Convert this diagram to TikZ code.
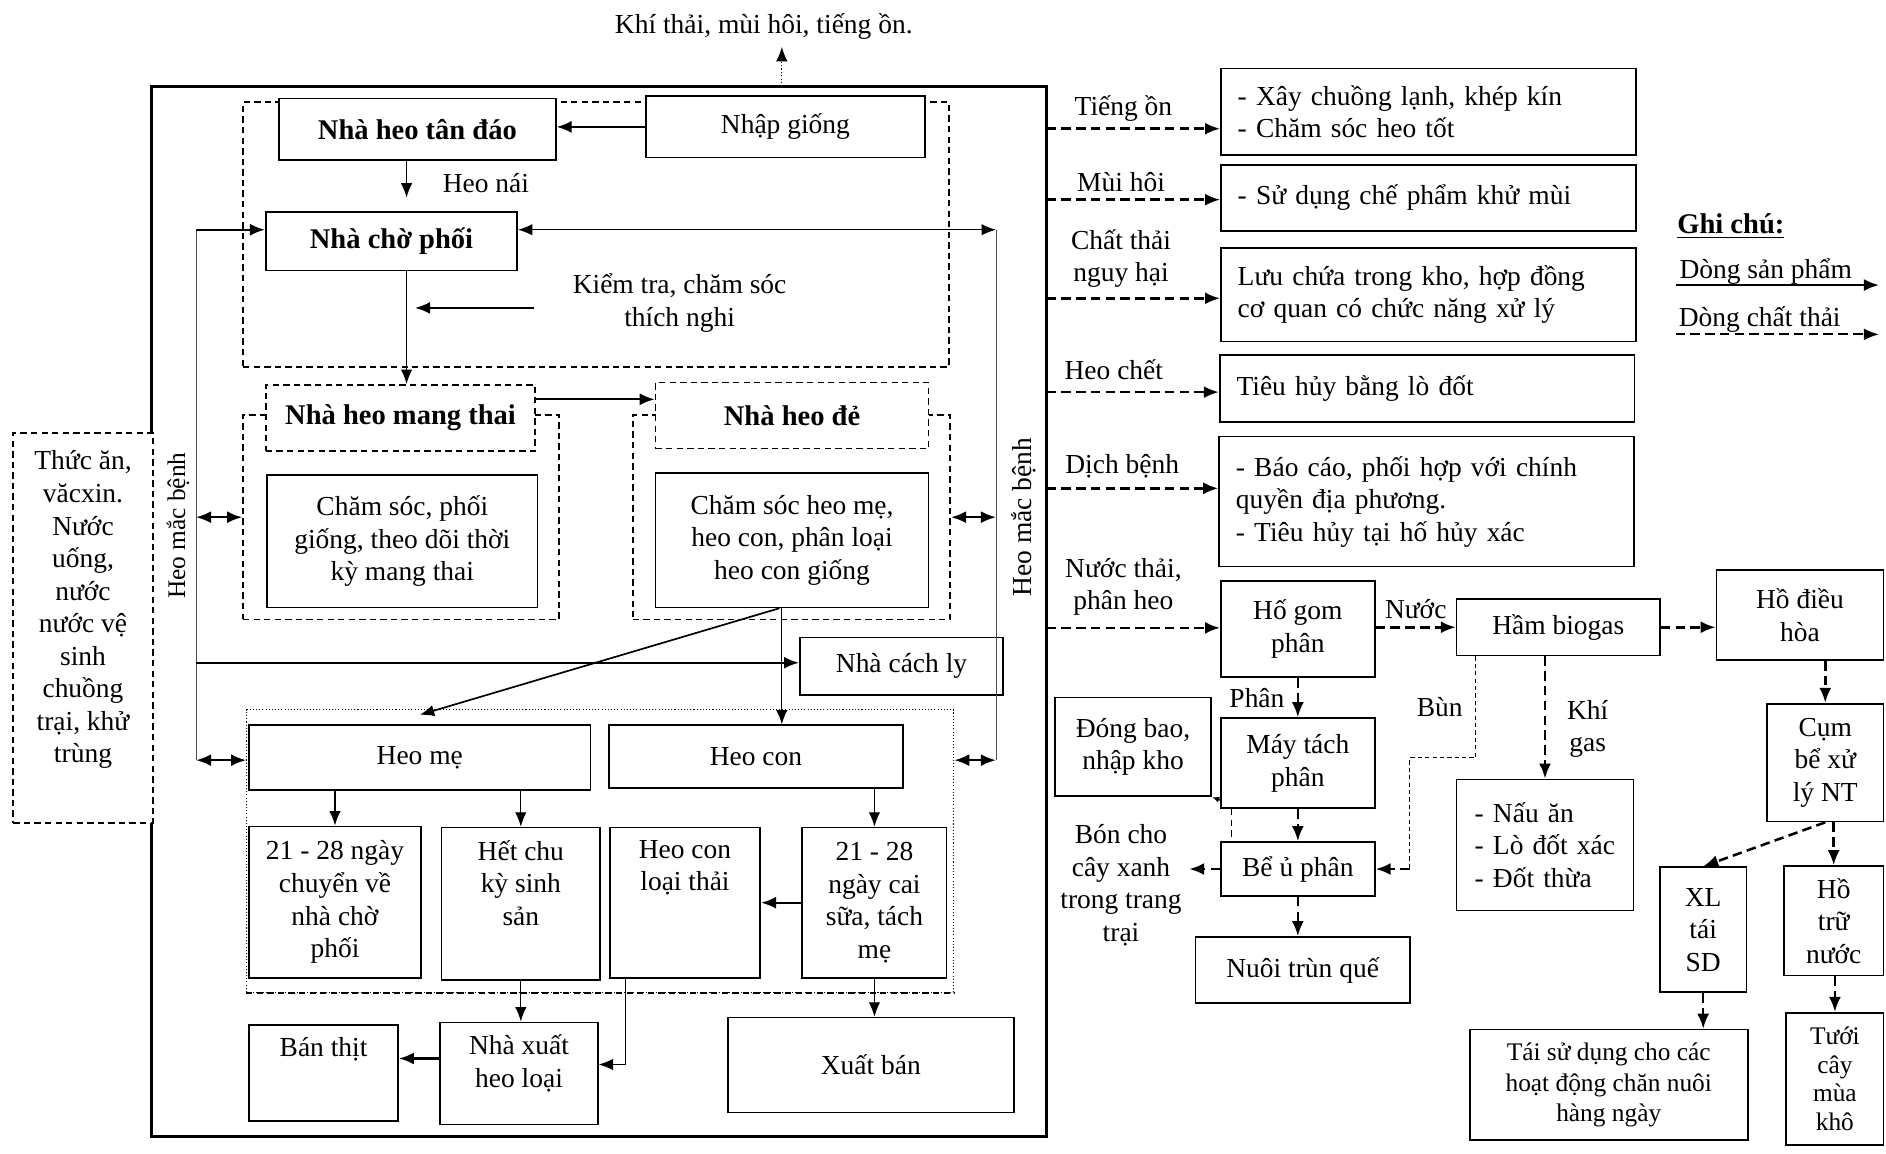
\documentclass[tikz,border=0pt]{standalone}
\usepackage{fontspec}
\setmainfont{Liberation Serif}
\usetikzlibrary{arrows.meta}

\begin{document}
\begin{tikzpicture}[x=0.02cm,y=-0.02cm,font=\fontsize{13}{15.4}\selectfont,
  box/.style={draw,line width=0.8pt,align=center,inner sep=1pt,fill=white},
  dbox/.style={box,dash pattern=on 3pt off 2pt},
  grp/.style={draw,line width=0.8pt,dash pattern=on 3pt off 2pt},
  txt/.style={align=left,text width=6.34cm,inner xsep=0.28cm},
  bf/.style={font=\fontsize{13.5}{15.4}\selectfont\bfseries},
  flow/.style={-{Latex[length=2.5mm,width=2mm]},line width=1.1pt},
  tflow/.style={-{Latex[length=2.4mm,width=1.9mm]},line width=0.6pt},
  waste/.style={flow,line width=1.2pt,dash pattern=on 4.5pt off 2.5pt},
  both/.style={{Latex[length=2.5mm,width=2mm]}-{Latex[length=2.5mm,width=2mm]},line width=1.1pt},
  tboth/.style={{Latex[length=2.4mm,width=1.9mm]}-{Latex[length=2.4mm,width=1.9mm]},line width=0.5pt},
  hair/.style={line width=0.4pt,black!70}]
  \useasboundingbox (0,0) rectangle (1568,959);

  \node[draw,line width=1.7pt,minimum width=14.88cm,minimum height=17.46cm] (frame) at (498,508.5) {};
  \node[grp,minimum width=11.74cm,minimum height=4.4cm] (gtop) at (495.5,195) {};
  \node[grp,minimum width=5.26cm,minimum height=3.4cm] (gmang) at (333.5,430) {};
  \node[grp,minimum width=5.28cm,minimum height=3.4cm] (gde) at (658,430) {};
  \node[draw,line width=0.5pt,densely dotted,minimum width=11.76cm,minimum height=4.7cm] (gbot) at (499,707.5) {};
  \draw[line width=0.8pt,dash pattern=on 3pt off 2pt] (gbot.south west) -- (gbot.south east);

  \node (khithai) at (635,22) {Khí thải, mùi hôi, tiếng ồn.};
  \coordinate (top) at (650,72);
  \draw[tflow,densely dotted] (top) -- (top |- khithai.south);

  \node[box,bf,minimum width=4.6cm,minimum height=1.02cm] (tandao) at (347,107.5) {Nhà heo tân đáo};
  \node[box,minimum width=4.64cm,minimum height=1.02cm] (nhapgiong) at (653,105.5) {Nhập giống};
  \node[box,bf,minimum width=4.18cm,minimum height=0.98cm] (chophoi) at (325.5,200.5) {Nhà chờ phối};
  \node (heonai) at (404,152) {Heo nái};
  \node[align=center] (kiemtra) at (565,252) {Kiểm tra, chăm sóc\\thích nghi};
  \node[dbox,bf,minimum width=4.48cm,minimum height=1.1cm] (mangthai) at (333,347.5) {Nhà heo mang thai};
  \node[box,minimum width=4.5cm,minimum height=2.2cm] (chamsoc1) at (334.5,450) {Chăm sóc, phối\\giống, theo dõi thời\\kỳ mang thai};
  \node[dbox,bf,minimum width=4.54cm,minimum height=1.1cm] (heode) at (658.5,345.5) {Nhà heo đẻ};
  \node[box,minimum width=4.54cm,minimum height=2.24cm] (chamsoc2) at (658.5,449) {Chăm sóc heo mẹ,\\heo con, phân loại\\heo con giống};
  \node[box,minimum width=3.38cm,minimum height=0.96cm] (cachly) at (749.5,554) {Nhà cách ly};
  \node[box,minimum width=5.68cm,minimum height=1.08cm] (heome) at (349,630) {Heo mẹ};
  \node[box,minimum width=4.9cm,minimum height=1.04cm] (heocon) at (628.5,629) {Heo con};
  \node[box,minimum width=2.86cm,minimum height=2.52cm] (chuyenve) at (278.5,750) {21 - 28 ngày\\chuyển về\\nhà chờ\\phối};
  \node[box,minimum width=2.64cm,minimum height=2.54cm] (hetchu) at (433,751.5) {};
  \node[anchor=north,align=center] at ([yshift=-0.1cm]hetchu.north) {Hết chu\\kỳ sinh\\sản};
  \node[box,minimum width=2.5cm,minimum height=2.5cm] (loaithai) at (569.5,750.5) {};
  \node[anchor=north,align=center] at ([yshift=-0.1cm]loaithai.north) {Heo con\\loại thải};
  \node[box,minimum width=2.4cm,minimum height=2.5cm] (caisua) at (727,750.5) {21 - 28\\ngày cai\\sữa, tách\\mẹ};
  \node[box,minimum width=2.48cm,minimum height=1.6cm] (banthit) at (269,892) {};
  \node[anchor=north] at ([yshift=-0.1cm]banthit.north) {Bán thịt};
  \node[box,minimum width=2.62cm,minimum height=1.7cm] (nhaxuat) at (431.5,892.5) {};
  \node[anchor=north,align=center] at ([yshift=-0.1cm]nhaxuat.north) {Nhà xuất\\heo loại};
  \node[box,minimum width=4.76cm,minimum height=1.58cm] (xuatban) at (724,885.5) {Xuất bán};

  \node[box,dash pattern=on 3pt off 2pt,minimum width=2.32cm,minimum height=6.48cm] (thucan) at (69,522) {};
  \node[align=center] at (69,507) {Thức ăn,\\văcxin.\\Nước\\uống,\\nước\\nước vệ\\sinh\\chuồng\\trại, khử\\trùng};
  \node[rotate=90,font=\fontsize{12}{14}\selectfont] at (148,437) {Heo mắc bệnh};
  \node[rotate=90] at (851,430) {Heo mắc bệnh};

  \coordinate (hl1) at (163,191);
  \coordinate (hl2) at (163,632);
  \coordinate (hl3) at (163,551);
  \coordinate (hr1) at (828,191);
  \coordinate (hr2) at (828,632);
  \draw[hair] (hl1) -- (hl2);
  \draw[hair] (hr1) -- (hr2);
  \draw[flow] (hl1) -- (hl1 -| chophoi.west);
  \draw[tboth] (hr1 -| chophoi.east) -- (hr1);
  \draw[both] (hl1 |- gmang.west) -- (gmang.west);
  \draw[both] (gde.east) -- (hr1 |- gde.east);
  \draw[both] (hl2) -- (hl2 -| gbot.west);
  \draw[both] (hr2 -| gbot.east) -- (hr2);
  \draw[flow] (hl3) -- (hl3 -| cachly.west);

  \draw[flow] (nhapgiong.west) -- (nhapgiong.west -| tandao.east);
  \draw[tflow,shorten >=0.22cm] ([xshift=-0.18cm]tandao.south) coordinate (t1) -- (t1 |- chophoi.north);
  \draw[tflow] ([xshift=0.25cm]chophoi.south) coordinate (c1) -- (c1 |- mangthai.north);
  \coordinate (kt1) at (444,256);
  \coordinate (kt2) at (345,256);
  \draw[flow] (kt1) -- (kt2);
  \draw[flow] ([yshift=0.31cm]mangthai.east) coordinate (mh) -- (mh -| heode.west);
  \draw[tflow] ([xshift=-0.17cm]chamsoc2.south) coordinate (d1) -- (d1 |- heocon.north);
  \draw[tflow,line width=0.8pt] ([xshift=-0.21cm]chamsoc2.south) -- ([yshift=0.16cm]heome.north);
  \draw[tflow] (chuyenve.north |- heome.south) -- (chuyenve.north);
  \draw[tflow] (hetchu.north |- heome.south) -- (hetchu.north);
  \draw[tflow] (caisua.north |- heocon.south) -- (caisua.north);
  \draw[flow] (caisua.west) -- (loaithai.east);
  \draw[tflow] (hetchu.south) -- (hetchu.south |- nhaxuat.north);
  \draw[tflow] ([xshift=-0.99cm]loaithai.south) |- ([yshift=0.15cm]nhaxuat.east);
  \draw[flow] ([yshift=0.25cm]nhaxuat.west) coordinate (nx) -- (nx -| banthit.east);
  \draw[tflow] (caisua.south) -- (caisua.south |- xuatban.north);

  \node (tiengon) at (934,90) {Tiếng ồn};
  \node (muihoi) at (932,151) {Mùi hôi};
  \node[align=center] (chatthai) at (932,215) {Chất thải\\nguy hại};
  \node (heochet) at (926,307) {Heo chết};
  \node (dichbenh) at (933,388) {Dịch bệnh};
  \node[align=center] (nuocthai) at (934,488) {Nước thải,\\phân heo};

  \node[box,txt,minimum height=1.44cm] (r1) at (1187.5,93) {- Xây chuồng lạnh, khép kín\\- Chăm sóc heo tốt};
  \node[box,txt,minimum height=1.1cm] (r2) at (1187.5,164.5) {- Sử dụng chế phẩm khử mùi};
  \node[box,txt,minimum height=1.56cm] (r3) at (1187.5,245) {\makebox[6.34cm][s]{Lưu chứa trong kho, hợp đồng}\\cơ quan có chức năng xử lý};
  \node[box,txt,minimum height=1.12cm] (r4) at (1186.5,323) {Tiêu hủy bằng lò đốt};
  \node[box,txt,minimum height=2.16cm] (r5) at (1186,417) {- Báo cáo, phối hợp với chính\\quyền địa phương.\\- Tiêu hủy tại hố hủy xác};

  \coordinate (o1) at (870,107);
  \coordinate (o2) at (870,166);
  \coordinate (o3) at (870,248);
  \coordinate (o4) at (870,326);
  \coordinate (o5) at (870,406);
  \coordinate (o6) at (870,522);
  \draw[waste] (o1) -- (o1 -| r1.west);
  \draw[waste] (o2) -- (o2 -| r2.west);
  \draw[waste] (o3) -- (o3 -| r3.west);
  \draw[waste] (o4) -- (o4 -| r4.west);
  \draw[waste] (o5) -- (o5 -| r5.west);

  \node[box,minimum width=2.56cm,minimum height=1.6cm] (hogom) at (1079,523) {Hố gom\\phân};
  \node[box,minimum width=3.38cm,minimum height=0.94cm] (biogas) at (1295.5,521.5) {Hầm biogas};
  \node[box,minimum width=2.78cm,minimum height=1.5cm] (dieuhoa) at (1496.5,511.5) {Hồ điều\\hòa};
  \node[box,minimum width=1.94cm,minimum height=1.96cm] (cumbe) at (1517.5,634) {Cụm\\bể xử\\lý NT};
  \node[box,minimum width=1.44cm,minimum height=2.08cm] (xltaisd) at (1416,773) {XL\\tái\\SD};
  \node[box,minimum width=1.66cm,minimum height=1.82cm] (hotru) at (1524.5,765.5) {Hồ\\trữ\\nước};
  \node[box,minimum width=4.62cm,minimum height=1.84cm,font=\fontsize{12}{14.5}\selectfont] (taisudung) at (1337.5,902) {Tái sử dụng cho các\\hoạt động chăn nuôi\\hàng ngày};
  \node[box,minimum width=1.62cm,minimum height=2.2cm,font=\fontsize{12}{13.6}\selectfont] (tuoi) at (1525.5,897) {Tưới\\cây\\mùa\\khô};
  \node[box,align=left,text width=2.34cm,inner xsep=0.3cm,minimum height=2.18cm] (naulan) at (1284.5,702.5) {- Nấu ăn\\- Lò đốt xác\\- Đốt thừa};
  \node[box,minimum width=2.56cm,minimum height=1.5cm] (maytach) at (1079,634.5) {Máy tách\\phân};
  \node[box,minimum width=2.6cm,minimum height=1.64cm] (dongbao) at (942,621) {Đóng bao,\\nhập kho};
  \node[box,minimum width=2.56cm,minimum height=0.9cm] (beu) at (1079,722.5) {Bể ủ phân};
  \node[box,minimum width=3.56cm,minimum height=1.1cm] (nuoitrun) at (1083,806.5) {Nuôi trùn quế};
  \node[align=center] (boncho) at (932,736) {Bón cho\\cây xanh\\trong trang\\trại};

  \draw[waste] (o6) -- (o6 -| hogom.west);
  \draw[waste] (biogas.west -| hogom.east) -- (biogas.west) node[midway,above] {Nước};
  \draw[waste] (biogas.east) -- (biogas.east -| dieuhoa.west);
  \draw[waste] (cumbe.north |- dieuhoa.south) -- (cumbe.north);
  \draw[waste] (cumbe.south) -- (xltaisd.north);
  \draw[waste] (hotru.north |- cumbe.south) -- (hotru.north);
  \draw[waste] (xltaisd.south) -- (xltaisd.south |- taisudung.north);
  \draw[waste] (tuoi.north |- hotru.south) -- (tuoi.north);
  \draw[waste] (naulan.north |- biogas.south) -- (naulan.north);
  \node[align=center] at (1320,606) {Khí\\gas};
  \coordinate (bun1) at (1227,630);
  \coordinate (bun2) at (1172,630);
  \draw[line width=0.5pt,dash pattern=on 2pt off 1.5pt] (bun1 |- biogas.south) -- (bun1) -- (bun2) -- (bun2 |- beu.east);
  \draw[waste] (bun2 |- beu.east) -- (beu.east);
  \node at (1197,588) {Bùn};
  \draw[waste] (hogom.south) -- (maytach.north);
  \node at (1045,580) {Phân};
  \draw[waste] (maytach.south) -- (beu.north);
  \draw[line width=0.6pt,dash pattern=on 3pt off 2pt] ([xshift=-1.1cm]maytach.south) coordinate (m1) -- (m1 |- beu.north);
  \draw[-{Latex[length=1.2mm,width=1mm]},line width=0.6pt] ([yshift=0.15cm]maytach.south west) -- (dongbao.south east);
  \draw[waste] (beu.west) -- (beu.west -| boncho.east);
  \draw[waste] (beu.south) -- (beu.south |- nuoitrun.north);

  \node[bf] (ghichu) at (1439,188) {\underline{Ghi chú:}};
  \node (dsp) at (1468,226) {Dòng sản phẩm};
  \node (dct) at (1463,266) {Dòng chất thải};
  \coordinate (l1) at (1393,237);
  \coordinate (l2) at (1393,278);
  \draw[flow,line width=0.9pt] (l1) -- ++(169,0);
  \draw[waste,line width=0.9pt] (l2) -- ++(169,0);
\end{tikzpicture}
\end{document}
